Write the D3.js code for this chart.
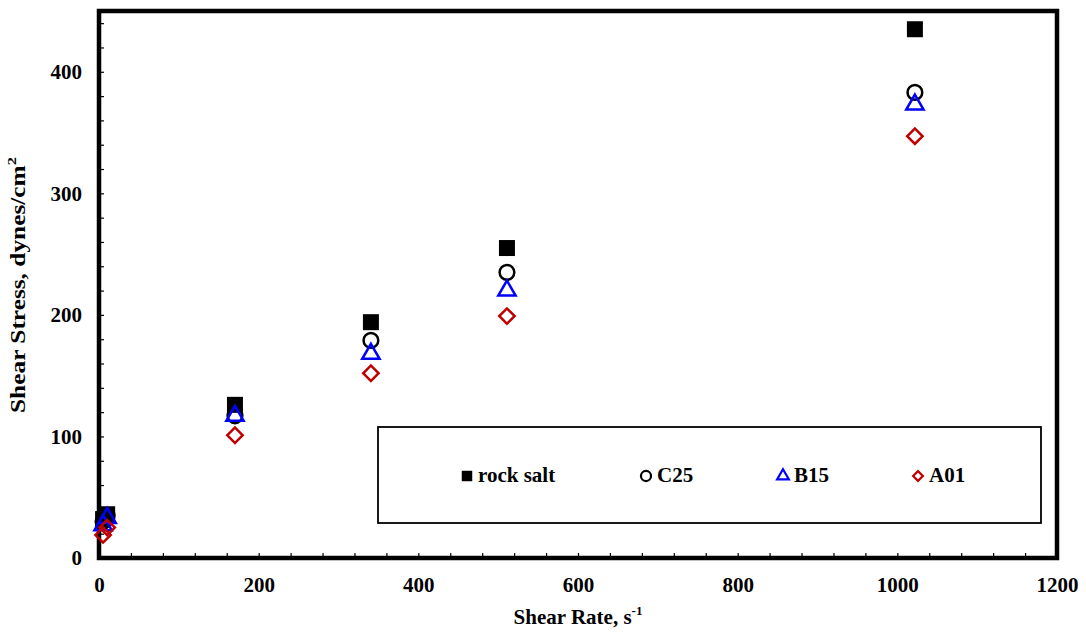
<!DOCTYPE html>
<html>
<head>
<meta charset="utf-8">
<script src="https://cdn.jsdelivr.net/npm/d3@7"></script>
<style>
  body { margin: 0; background: #fff; }
  text { font-family: "Liberation Serif", "Times New Roman", serif; font-weight: bold; }
</style>
</head>
<body>
<svg id="chart" width="1086" height="632"></svg>
<script>
// DATA
const shearRate = [5.11, 10.22, 170.3, 340.6, 511, 1022];
const rockSalt = [32, 36, 126, 194, 255, 435];
const c25 = [30, 35, 117, 179, 235, 383];
const b15 = [27, 33, 117, 168, 220, 373];
const a01 = [19, 25, 101, 152, 199, 347];
const seriesNames = ["rock salt", "C25", "B15", "A01"];
const xTicks = [0, 200, 400, 600, 800, 1000, 1200];
const yTicks = [0, 100, 200, 300, 400];

const width = 1086, height = 632;
const margin = { top: 11, right: 29, bottom: 74, left: 99 };

const svg = d3.select("svg#chart");

// SCALES
const xScale = d3.scaleLinear()
    .domain([0, 1200])
    .range([margin.left, width - margin.right]);

const yScale = d3.scaleLinear()
    .domain([0, 450])
    .range([height - margin.bottom, margin.top]);

// MINOR TICKS (inside)
const xMinor = g => g.attr("transform", `translate(0, ${yScale(0)})`)
    .call(d3.axisBottom(xScale).tickValues(d3.range(0, 1201, 40)).tickSize(-5).tickFormat(""))
    .call(g => g.select(".domain").remove())
    .call(g => g.selectAll("line").attr("stroke-width", 1.2));

const yMinor = g => g.attr("transform", `translate(${xScale(0)},0)`)
    .call(d3.axisLeft(yScale).tickValues(d3.range(0, 451, 20)).tickSize(-5).tickFormat(""))
    .call(g => g.select(".domain").remove())
    .call(g => g.selectAll("line").attr("stroke-width", 1.2));

svg.append("g").call(xMinor);
svg.append("g").call(yMinor);

// TICK LABELS
const xAxis = g => g.attr("transform", `translate(0, ${yScale(0)})`)
    .call(d3.axisBottom(xScale).tickValues(xTicks).tickSize(0).tickPadding(19).tickFormat(d3.format("d")))
    .call(g => g.select(".domain").remove())
    .call(g => g.selectAll("text").attr("font-size", 21).attr("fill", "#000")
        .attr("font-family", "Liberation Serif").attr("font-weight", "bold"));

const yAxis = g => g.attr("transform", `translate(${xScale(0)},0)`)
    .call(d3.axisLeft(yScale).tickValues(yTicks).tickSize(0).tickPadding(17).tickFormat(d3.format("d")))
    .call(g => g.select(".domain").remove())
    .call(g => g.selectAll("text").attr("font-size", 21).attr("fill", "#000")
        .attr("font-family", "Liberation Serif").attr("font-weight", "bold"));

svg.append("g").call(xAxis);
svg.append("g").call(yAxis);

// FRAME
svg.append("rect")
    .attr("x", xScale(0)).attr("y", yScale(450))
    .attr("width", xScale(1200) - xScale(0))
    .attr("height", yScale(0) - yScale(450))
    .attr("fill", "none").attr("stroke", "#000").attr("stroke-width", 4.5);

// AXIS TITLES
const xTitle = svg.append("text")
    .attr("x", 578).attr("y", 624)
    .attr("text-anchor", "middle").attr("font-size", 21);
xTitle.append("tspan").text("Shear Rate, s");
xTitle.append("tspan").text("-1").attr("font-size", 13).attr("dy", -9);

const yTitle = svg.append("text")
    .attr("transform", `translate(25, ${(157 + 413) / 2}) rotate(-90)`)
    .attr("text-anchor", "middle").attr("font-size", 20)
    .attr("textLength", 256).attr("lengthAdjust", "spacingAndGlyphs");
yTitle.append("tspan").text("Shear Stress, dynes/cm");
yTitle.append("tspan").text("2").attr("font-size", 13).attr("dy", -9);

// MARKERS
const series = [
    { name: seriesNames[0], values: rockSalt, type: d3.symbolSquare, fill: "#000", stroke: "none", size: 256, lsize: 110 },
    { name: seriesNames[1], values: c25, type: d3.symbolCircle, fill: "none", stroke: "#000", size: 170, lsize: 80 },
    { name: seriesNames[2], values: b15, type: d3.symbolTriangle, fill: "none", stroke: "#0000ff", size: 130, lsize: 60 },
    { name: seriesNames[3], values: a01, type: "diamond", fill: "none", stroke: "#c00000", size: 150, lsize: 60 }
];

const shapeOf = s => s.type === "diamond" ? d3.symbolSquare2 : s.type;
const turn = s => s.type === "diamond" ? " rotate(45)" : "";

const plot = svg.append("g");
series.forEach(s => {
    plot.append("g")
        .selectAll("path")
        .data(shearRate.map((x, i) => ({ x, y: s.values[i] })))
        .join("path")
        .attr("transform", d => `translate(${xScale(d.x)},${yScale(d.y)})` + turn(s))
        .attr("d", d3.symbol().type(shapeOf(s)).size(s.size))
        .attr("fill", s.fill)
        .attr("stroke", s.stroke)
        .attr("stroke-width", 2.5);
});

// LEGEND
const legend = svg.append("g");
legend.append("rect")
    .attr("x", 378).attr("y", 427).attr("width", 663).attr("height", 96)
    .attr("fill", "#fff").attr("stroke", "#000").attr("stroke-width", 1.8);

const legendX = [467, 646, 783, 918];
series.forEach((s, i) => {
    legend.append("path")
        .attr("transform", `translate(${legendX[i]},476)` + turn(s))
        .attr("d", d3.symbol().type(shapeOf(s)).size(s.lsize))
        .attr("fill", s.fill)
        .attr("stroke", s.stroke)
        .attr("stroke-width", 2.2);
    legend.append("text")
        .attr("x", legendX[i] + 11).attr("y", 482)
        .attr("font-size", 21)
        .text(s.name);
});
</script>
</body>
</html>
